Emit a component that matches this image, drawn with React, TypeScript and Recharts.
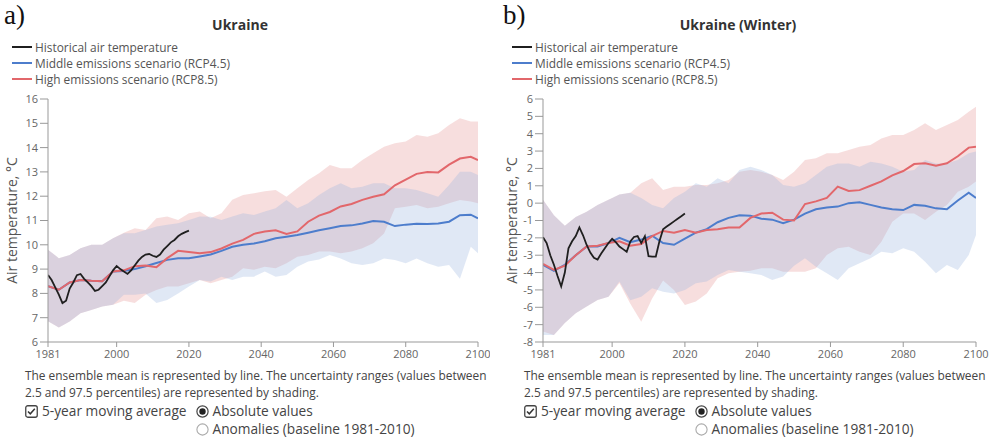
import React from 'react';
import { Area, ComposedChart, Line, XAxis, YAxis } from 'recharts';

// historical 5-year moving average
const HIST_YEARS = [
  1981, 1982, 1983, 1984, 1985, 1986, 1987, 1988, 1989, 1990, 1991, 1992, 1993, 1994,
  1995, 1996, 1997, 1998, 1999, 2000, 2001, 2002, 2003, 2004, 2005, 2006, 2007, 2008,
  2009, 2010, 2011, 2012, 2013, 2014, 2015, 2016, 2017, 2018, 2019, 2020,
];
const HIST_ANNUAL = [
  8.76, 8.55, 8.25, 7.95, 7.6, 7.7, 8.2, 8.45, 8.75, 8.8, 8.6, 8.45, 8.3, 8.1, 8.15,
  8.3, 8.45, 8.7, 8.95, 9.13, 9.0, 8.9, 8.8, 8.95, 9.15, 9.35, 9.5, 9.6, 9.62, 9.55,
  9.5, 9.6, 9.8, 9.95, 10.1, 10.2, 10.35, 10.45, 10.52, 10.58,
];
const HIST_WINTER = [
  -1.97, -2.3, -3.0, -3.55, -4.2, -4.8, -4.0, -2.6, -2.2, -1.9, -1.4, -1.85, -2.41,
  -2.85, -3.15, -3.25, -2.9, -2.6, -2.3, -2.05, -2.25, -2.5, -2.65, -2.8, -2.2, -1.95,
  -1.9, -2.3, -1.9, -3.05, -3.08, -3.08, -2.2, -1.5, -1.35, -1.2, -1.05, -0.9, -0.75,
  -0.6,
];

// scenario ensemble (mean + 2.5/97.5 percentiles)
const SCEN_YEARS = [
  1981, 1984, 1987, 1990, 1993, 1996, 1999, 2002, 2005, 2008, 2011, 2014, 2017, 2020,
  2023, 2026, 2029, 2032, 2035, 2038, 2041, 2044, 2047, 2050, 2053, 2056, 2059, 2062,
  2065, 2068, 2071, 2074, 2077, 2080, 2083, 2086, 2089, 2092, 2095, 2098, 2100,
];

const RCP45_ANNUAL = [
  8.3, 8.15, 8.45, 8.55, 8.52, 8.5, 8.9, 8.92, 9.0, 9.12, 9.25, 9.38, 9.45, 9.45, 9.52,
  9.6, 9.75, 9.92, 10.0, 10.05, 10.15, 10.27, 10.33, 10.4, 10.5, 10.6, 10.68, 10.77,
  10.8, 10.88, 10.98, 10.95, 10.77, 10.83, 10.87, 10.86, 10.88, 10.95, 11.22, 11.24,
  11.09,
];
const RCP45_ANNUAL_LOW = [
  6.85, 6.6, 6.84, 7.18, 7.32, 7.46, 7.53, 7.94, 7.94, 8.0, 7.6, 7.73, 8.0, 8.28, 8.55,
  8.49, 8.69, 8.55, 8.69, 8.69, 8.9, 8.69, 8.76, 9.1, 9.31, 9.4, 9.58, 9.44, 9.24, 9.17,
  9.24, 9.44, 9.37, 9.24, 9.44, 9.24, 9.1, 9.17, 8.6, 9.92, 9.65,
];
const RCP45_ANNUAL_HIGH = [
  9.8, 9.45, 9.58, 9.86, 10.0, 10.0, 10.27, 10.48, 10.48, 10.61, 10.75, 10.82, 10.89,
  11.02, 11.16, 11.15, 11.02, 11.16, 11.3, 11.23, 11.37, 11.5, 11.84, 11.5, 11.71,
  12.05, 12.33, 12.53, 12.33, 12.39, 12.53, 12.53, 12.33, 12.33, 12.26, 12.12, 11.98,
  12.46, 13.01, 13.01, 12.87,
];
const RCP85_ANNUAL = [
  8.3, 8.15, 8.45, 8.55, 8.52, 8.5, 8.9, 8.95, 9.12, 9.15, 9.08, 9.45, 9.75, 9.7, 9.65,
  9.7, 9.85, 10.05, 10.2, 10.45, 10.55, 10.6, 10.45, 10.55, 10.95, 11.2, 11.35, 11.58,
  11.68, 11.85, 11.98, 12.08, 12.45, 12.68, 12.92, 13.0, 12.98, 13.3, 13.55, 13.62,
  13.49,
];
const RCP85_ANNUAL_LOW = [
  6.85, 6.6, 6.84, 7.18, 7.32, 7.46, 7.53, 7.7, 7.6, 7.94, 8.14, 8.28, 8.28, 8.42, 8.55,
  8.42, 8.55, 8.69, 9.03, 8.97, 9.1, 9.03, 9.24, 9.51, 9.58, 9.72, 9.72, 9.65, 9.72,
  9.86, 10.06, 10.47, 11.5, 11.57, 11.64, 11.5, 11.57, 11.71, 11.84, 11.78, 11.71,
];
const RCP85_ANNUAL_HIGH = [
  9.8, 9.45, 9.58, 9.86, 10.0, 10.0, 10.27, 10.5, 10.68, 10.61, 11.09, 11.16, 11.02,
  11.3, 11.37, 11.09, 11.3, 11.85, 12.05, 12.12, 12.2, 12.26, 11.98, 12.33, 12.67,
  12.94, 13.28, 13.15, 13.15, 13.49, 13.77, 14.04, 14.18, 14.25, 14.52, 14.45, 14.59,
  14.93, 15.21, 15.07, 15.07,
];

const RCP45_WINTER = [
  -3.56, -3.9, -3.55, -3.0, -2.5, -2.5, -2.3, -2.0, -2.25, -2.1, -1.88, -2.3, -2.4,
  -2.05, -1.7, -1.5, -1.1, -0.85, -0.7, -0.72, -0.9, -0.95, -1.15, -0.95, -0.6, -0.35,
  -0.25, -0.2, 0.0, 0.05, -0.1, -0.25, -0.35, -0.4, -0.1, -0.15, -0.3, -0.35, 0.15,
  0.6, 0.3,
];
const RCP45_WINTER_LOW = [
  -7.6, -7.6, -6.9, -6.35, -5.96, -5.58, -5.39, -4.52, -5.6, -5.39, -4.9, -5.1, -5.2,
  -5.0, -4.62, -4.52, -4.14, -3.85, -3.95, -4.04, -4.14, -4.43, -4.23, -3.6, -3.18,
  -3.66, -4.04, -4.43, -3.75, -3.47, -3.18, -2.8, -2.89, -2.6, -2.8, -3.37, -4.04,
  -3.56, -3.85, -2.99, -1.83,
];
const RCP45_WINTER_HIGH = [
  0.2, -0.7, -1.3, -0.8, -0.5, -0.1, 0.2, 0.5, 0.6, 0.3, -0.1, -0.3, 0.3, 0.66, 1.14,
  0.95, 1.43, 1.14, 1.91, 2.1, 1.91, 1.62, 1.05, 0.95, 1.14, 1.62, 2.1, 2.29, 2.29, 2.1,
  2.39, 2.29, 2.1, 1.81, 1.91, 2.49, 2.29, 2.29, 2.49, 2.87, 2.97,
];
const RCP85_WINTER = [
  -3.5, -3.85, -3.6, -3.0, -2.5, -2.45, -2.3, -2.2, -2.45, -2.35, -1.9, -1.6, -1.7,
  -1.55, -1.7, -1.55, -1.5, -1.4, -1.4, -0.85, -0.6, -0.55, -0.95, -1.0, -0.05, 0.1,
  0.3, 0.95, 0.7, 0.75, 1.0, 1.25, 1.6, 1.85, 2.25, 2.3, 2.15, 2.3, 2.7, 3.2, 3.25,
];
const RCP85_WINTER_LOW = [
  -7.4, -7.6, -6.9, -6.35, -5.96, -5.58, -5.39, -4.6, -5.8, -6.83, -5.5, -4.45, -5.0,
  -5.87, -5.67, -5.2, -4.33, -4.04, -3.95, -3.9, -3.75, -3.75, -3.95, -3.95, -3.95,
  -3.75, -2.99, -2.6, -2.51, -2.8, -2.99, -2.22, -1.07, -0.59, -0.59, -0.97, -0.49,
  -0.11, 0.66, 0.95, 1.24,
];
const RCP85_WINTER_HIGH = [
  0.2, -0.7, -1.3, -0.8, -0.5, -0.1, 0.2, 0.5, 0.6, 1.15, 1.43, 0.76, 0.95, 0.95, 1.05,
  1.05, 1.14, 1.33, 1.81, 1.91, 1.81, 1.62, 1.33, 1.81, 2.49, 2.58, 2.87, 2.87, 3.06,
  3.25, 3.35, 3.73, 3.93, 3.93, 4.21, 4.6, 4.21, 4.5, 4.79, 5.27, 5.56,
];

const X_TICKS = [1981, 2000, 2020, 2040, 2060, 2080, 2100];
const Y_TICKS_ANNUAL = [6, 7, 8, 9, 10, 11, 12, 13, 14, 15, 16];
const Y_TICKS_WINTER = [-8, -7, -6, -5, -4, -3, -2, -1, 0, 1, 2, 3, 4, 5, 6];

const FONT = '"Open Sans", sans-serif';
const BLUE = '#4d7dcc';
const RED = '#e2676b';

function buildRows(hist, m45, lo45, hi45, m85, lo85, hi85) {
  const byYear = new Map();
  const row = (y) => {
    if (!byYear.has(y)) byYear.set(y, { year: y });
    return byYear.get(y);
  };
  HIST_YEARS.forEach((y, i) => {
    row(y).hist = hist[i];
  });
  SCEN_YEARS.forEach((y, i) => {
    const r = row(y);
    r.rcp45 = m45[i];
    r.band45 = [lo45[i], hi45[i]];
    r.rcp85 = m85[i];
    r.band85 = [lo85[i], hi85[i]];
  });
  return [...byYear.values()].sort((a, b) => a.year - b.year);
}

const annualRows = buildRows(
  HIST_ANNUAL, RCP45_ANNUAL, RCP45_ANNUAL_LOW, RCP45_ANNUAL_HIGH,
  RCP85_ANNUAL, RCP85_ANNUAL_LOW, RCP85_ANNUAL_HIGH,
);
const winterRows = buildRows(
  HIST_WINTER, RCP45_WINTER, RCP45_WINTER_LOW, RCP45_WINTER_HIGH,
  RCP85_WINTER, RCP85_WINTER_LOW, RCP85_WINTER_HIGH,
);

const LEGEND = [
  { label: 'Historical air temperature', color: '#1f1f1f' },
  { label: 'Middle emissions scenario (RCP4.5)', color: BLUE },
  { label: 'High emissions scenario (RCP8.5)', color: RED },
];

function Legend({ left }) {
  return (
    <div style={{ position: 'absolute', left, top: 39, fontFamily: FONT, fontSize: 11.9, color: '#555' }}>
      {LEGEND.map((item) => (
        <div key={item.label} style={{ display: 'flex', alignItems: 'center', height: 16 }}>
          <svg width={22} height={4} style={{ marginRight: 1 }}>
            <line x1={0} y1={2} x2={20} y2={2} stroke={item.color} strokeWidth={2} />
          </svg>
          <span>{item.label}</span>
        </div>
      ))}
    </div>
  );
}

function Controls({ left }) {
  return (
    <div style={{ position: 'absolute', left, top: 367, fontFamily: FONT, color: '#444' }}>
      <div style={{ fontSize: 11.9, lineHeight: '17px', width: 480, whiteSpace: 'nowrap' }}>
        The ensemble mean is represented by line. The uncertainty ranges (values between
        <br />
        2.5 and 97.5 percentiles) are represented by shading.
      </div>
      <div style={{ fontSize: 13.7, lineHeight: '18px', display: 'flex', marginTop: 1, whiteSpace: 'nowrap' }}>
        <div style={{ display: 'flex', alignItems: 'center', height: 18 }}>
          <svg width={13} height={13} style={{ marginRight: 4 }}>
            <rect x={0.75} y={0.75} width={11.5} height={11.5} rx={2} fill="none" stroke="#444" strokeWidth={1.3} />
            <path d="M3 6.5 L5.3 8.8 L9.8 3.8" fill="none" stroke="#333" strokeWidth={1.5} />
          </svg>
          <span>5-year moving average</span>
        </div>
        <div style={{ marginLeft: 9 }}>
          <div style={{ display: 'flex', alignItems: 'center', height: 18 }}>
            <svg width={13} height={13} style={{ marginRight: 4 }}>
              <circle cx={6.5} cy={6.5} r={5.6} fill="none" stroke="#444" strokeWidth={1.2} />
              <circle cx={6.5} cy={6.5} r={3.2} fill="#222" />
            </svg>
            <span>Absolute values</span>
          </div>
          <div style={{ display: 'flex', alignItems: 'center', height: 18 }}>
            <svg width={13} height={13} style={{ marginRight: 4 }}>
              <circle cx={6.5} cy={6.5} r={5.6} fill="none" stroke="#aaa" strokeWidth={1.1} />
            </svg>
            <span>Anomalies (baseline 1981-2010)</span>
          </div>
        </div>
      </div>
    </div>
  );
}

function Panel({ left, width, right, rows, ticks, domain, labelOffset }) {
  return (
    <div style={{ position: 'absolute', left, top: 0 }}>
      <ComposedChart
        width={width}
        height={442}
        data={rows}
        margin={{ top: 99, right, bottom: 70, left: 0 }}
      >
        <XAxis
          dataKey="year"
          type="number"
          domain={[1981, 2100]}
          ticks={X_TICKS}
          allowDataOverflow
          tickSize={5}
          tickMargin={3}
          height={30}
          axisLine={{ stroke: '#999' }}
          tickLine={{ stroke: '#999' }}
          tick={{ fill: '#666', fontSize: 11, fontFamily: FONT }}
        />
        <YAxis
          type="number"
          domain={domain}
          ticks={ticks}
          allowDataOverflow
          interval={0}
          width={48}
          tickSize={8}
          tickMargin={2}
          axisLine={{ stroke: '#999' }}
          tickLine={{ stroke: '#999' }}
          tick={{ fill: '#666', fontSize: 11, fontFamily: FONT }}
          label={{
            value: 'Air temperature, °C',
            angle: -90,
            position: 'insideLeft',
            offset: labelOffset,
            style: { textAnchor: 'middle', fill: '#555', fontSize: 14, fontFamily: FONT },
          }}
        />
        <Area
          dataKey="band85"
          stroke="none"
          fill="#e49191"
          fillOpacity={0.3}
          connectNulls
          isAnimationActive={false}
          activeDot={false}
        />
        <Area
          dataKey="band45"
          stroke="none"
          fill="#98b2de"
          fillOpacity={0.3}
          connectNulls
          isAnimationActive={false}
          activeDot={false}
        />
        <Line dataKey="rcp45" stroke={BLUE} strokeWidth={2} dot={false} connectNulls isAnimationActive={false} />
        <Line dataKey="rcp85" stroke={RED} strokeWidth={2} dot={false} connectNulls isAnimationActive={false} />
        <Line dataKey="hist" stroke="#1f1f1f" strokeWidth={1.8} dot={false} isAnimationActive={false} />
      </ComposedChart>
    </div>
  );
}

const panelLetter = {
  position: 'absolute',
  top: 0,
  fontFamily: '"Liberation Serif", serif',
  fontSize: 27,
  color: '#111',
};

const titleStyle = {
  position: 'absolute',
  top: 15,
  width: 240,
  textAlign: 'center',
  fontFamily: FONT,
  fontWeight: 700,
  fontSize: 14,
  color: '#333',
};

export default function App() {
  return (
    <div style={{ position: 'absolute', left: 0, top: 0, width: 998, height: 442, background: '#fff', overflow: 'hidden' }}>
      <div style={{ ...panelLetter, left: 4 }}>a)</div>
      <div style={{ ...panelLetter, left: 503 }}>b)</div>
      <div style={{ ...titleStyle, left: 120 }}>Ukraine</div>
      <div style={{ ...titleStyle, left: 618 }}>Ukraine (Winter)</div>
      <Legend left={12} />
      <Legend left={512} />
      <Panel left={0} width={490} right={12} rows={annualRows} ticks={Y_TICKS_ANNUAL} domain={[6, 16]} labelOffset={12} />
      <Panel left={495} width={495} right={14} rows={winterRows} ticks={Y_TICKS_WINTER} domain={[-8, 6]} labelOffset={17} />
      <Controls left={25} />
      <Controls left={524} />
    </div>
  );
}
